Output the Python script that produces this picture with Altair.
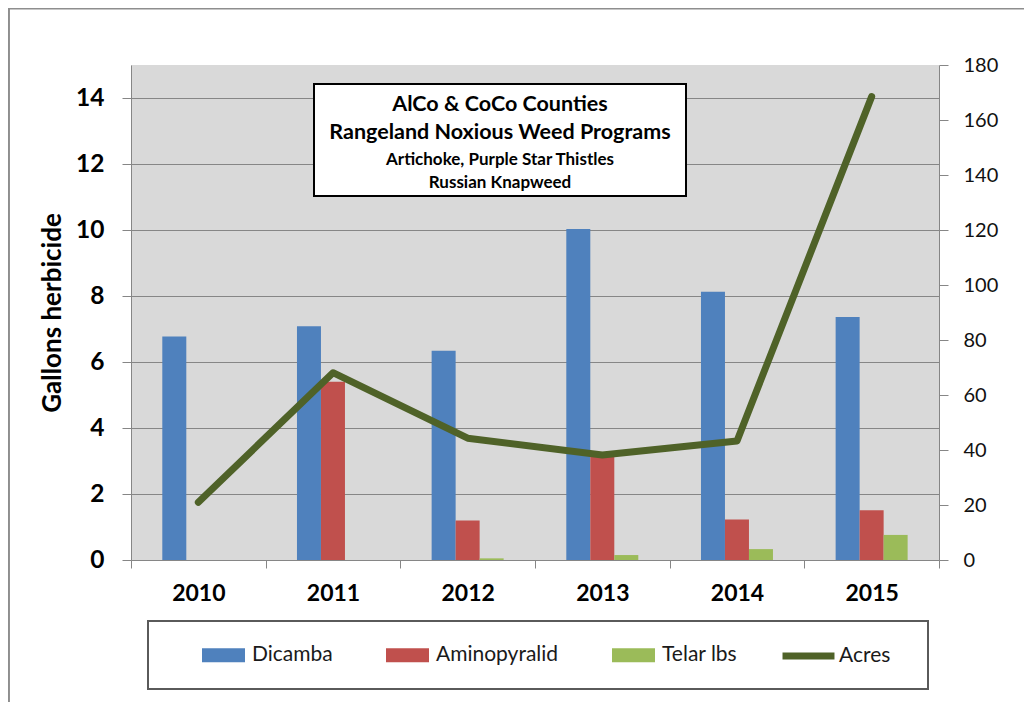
import altair as alt
import pandas as pd

# ---- data ----
years = ["2010", "2011", "2012", "2013", "2014", "2015"]
dicamba = [6.77, 7.08, 6.34, 10.03, 8.13, 7.36]
aminopyralid = [0.0, 5.40, 1.20, 3.12, 1.23, 1.51]
telar = [0.0, 0.0, 0.05, 0.15, 0.33, 0.76]
acres = [21.0, 68.1, 44.3, 38.2, 43.3, 168.5]

bar_series = ["Dicamba", "Aminopyralid", "Telar lbs"]
bar_colors = ["#4F81BD", "#C0504D", "#9BBB59"]
line_series = ["Acres"]
line_colors = ["#4F6228"]

left_ticks = [0, 2, 4, 6, 8, 10, 12, 14]
right_ticks = [0, 20, 40, 60, 80, 100, 120, 140, 160, 180]

title_lines = [
    "AlCo & CoCo Counties",
    "Rangeland Noxious Weed Programs",
    "Artichoke, Purple Star Thistles",
    "Russian Knapweed",
]
title_sizes = [21.5, 21.5, 17, 17]
title_ys = [40, 68, 95, 118]

y_title = "Gallons herbicide"

bars_df = pd.DataFrame({
    "year": years * 3,
    "series": [s for s in bar_series for _ in years],
    "value": dicamba + aminopyralid + telar,
})
line_df = pd.DataFrame({"year": years, "series": line_series * len(years), "acres": acres})

FONT = "Lato"
GREY = "#868686"

x_enc = alt.X(
    "year:N", sort=years,
    scale=alt.Scale(paddingInner=0, paddingOuter=0),
    axis=alt.Axis(title=None, tickBand="extent", labelAngle=0, tickSize=8,
                  labelPadding=14, labelFont=FONT, labelFontSize=23,
                  labelFontWeight="bold", labelColor="#000000",
                  domainColor=GREY, tickColor=GREY, grid=False),
)

bars = alt.Chart(bars_df).mark_bar().encode(
    x=x_enc,
    xOffset=alt.XOffset("series:N", sort=bar_series,
                        scale=alt.Scale(domain=bar_series, paddingInner=0, paddingOuter=0,
                                        range=[31.3, 103.3])),
    y=alt.Y("value:Q", scale=alt.Scale(domain=[0, 15], nice=False),
            axis=alt.Axis(orient="left", values=left_ticks, grid=True, gridColor=GREY,
                          tickSize=9, labelPadding=18, labelFont=FONT, labelFontSize=24.5,
                          labelFontWeight="bold", labelColor="#000000",
                          domainColor=GREY, tickColor=GREY,
                          title=y_title, titleFont=FONT, titleFontSize=26,
                          titleFontWeight="bold", titleColor="#000000",
                          titleAngle=270, titleX=-79, titleY=247.5,
                          titleAlign="center", titleBaseline="middle")),
    color=alt.Color("series:N", sort=bar_series,
                    scale=alt.Scale(domain=bar_series, range=bar_colors),
                    legend=alt.Legend(title=None, orient="none", legendX=71, legendY=568.5,
                                      direction="horizontal",
                                      symbolType="M-1,-0.326H1V0.326H-1Z",
                                      symbolSize=1849, symbolStrokeWidth=0,
                                      symbolOpacity=1,
                                      labelFont=FONT, labelFontSize=21,
                                      labelColor="#1a1a1a", labelOffset=7,
                                      columnPadding=53, padding=0)),
)

line = alt.Chart(line_df).mark_line(strokeWidth=7, strokeCap="round", strokeJoin="round").encode(
    x=x_enc,
    y=alt.Y("acres:Q", scale=alt.Scale(domain=[0, 180], nice=False),
            axis=alt.Axis(orient="right", values=right_ticks, grid=False, title=None,
                          tickSize=9, labelPadding=15, labelFont=FONT, labelFontSize=20,
                          labelColor="#111111", domainColor=GREY, tickColor=GREY)),
    stroke=alt.Stroke("series:N",
                      scale=alt.Scale(domain=line_series, range=line_colors),
                      legend=alt.Legend(title=None, orient="none", legendX=648, legendY=561.5,
                                        symbolType="stroke", symbolSize=2700,
                                        symbolStrokeWidth=7,
                                        labelFont=FONT, labelFontSize=21,
                                        labelColor="#1a1a1a", labelOffset=1, padding=0)),
)

one = pd.DataFrame({"k": [0]})

outer_border = alt.Chart(one).mark_rect(fillOpacity=0, stroke="#8e8e8e", strokeWidth=2.5).encode(
    x=alt.value(-122.3), x2=alt.value(1200), y=alt.value(-56.7), y2=alt.value(900))

title_box = alt.Chart(one).mark_rect(fill="white", stroke="#000000", strokeWidth=2).encode(
    x=alt.value(183), x2=alt.value(555), y=alt.value(19), y2=alt.value(131))

legend_box = alt.Chart(one).mark_rect(fillOpacity=0, stroke="#5a5a5a", strokeWidth=2).encode(
    x=alt.value(17), x2=alt.value(797), y=alt.value(556), y2=alt.value(624))

texts = []
for t, s, yy in zip(title_lines, title_sizes, title_ys):
    texts.append(
        alt.Chart(pd.DataFrame({"t": [t]})).mark_text(
            font=FONT, fontSize=s, fontWeight="bold", color="#000000",
            align="center", baseline="middle").encode(
            text="t:N", x=alt.value(369), y=alt.value(yy))
    )

chart = alt.layer(outer_border, bars, line, title_box, *texts, legend_box).resolve_scale(
    y="independent"
).properties(
    width=808, height=495,
    autosize=alt.AutoSizeParams(type="none"),
    padding={"left": 123, "top": 57, "right": 85, "bottom": 142},
    background="white",
).configure_view(stroke=None, fill="#D9D9D9")

chart.save("out.html", embed_options={"renderer": "svg", "actions": False})
